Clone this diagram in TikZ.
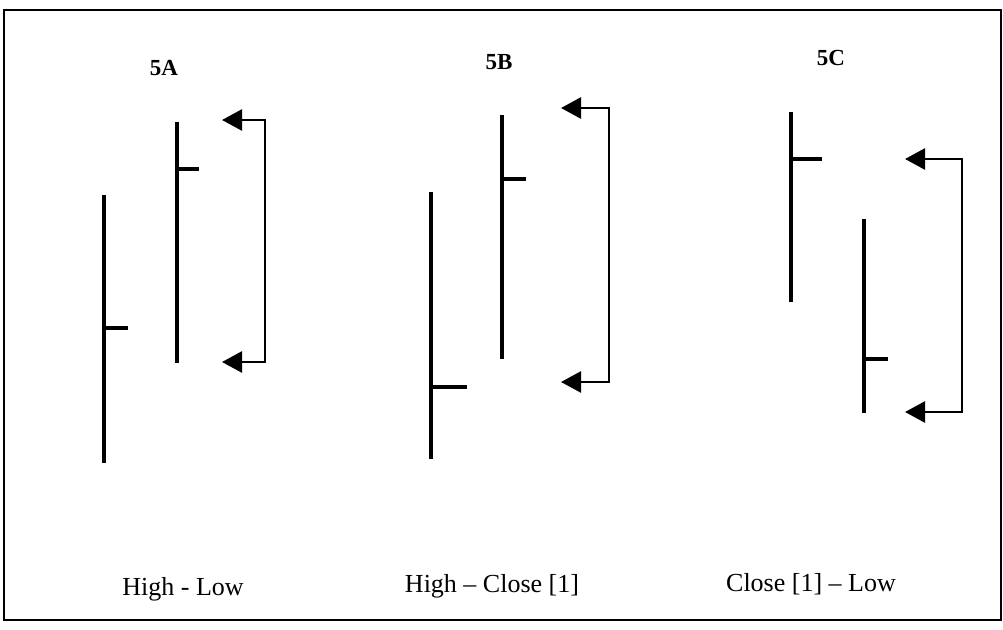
\documentclass[tikz,border=0pt]{standalone}
\usepackage{fontspec}
\setmainfont{Liberation Serif}
\usetikzlibrary{arrows.meta, positioning, calc}
\tikzset{
    barLine/.style={line width=4.2pt},
    tickLine/.style={line width=4.2pt},
    spanLine/.style={line width=2.6pt, -{Triangle[length=20pt, width=21pt]}},
    panelTitle/.style={font=\fontsize{23}{25}\selectfont\bfseries, inner sep=0pt},
    panelCaption/.style={font=\fontsize{26}{28}\selectfont, inner sep=0pt},
    frameLine/.style={line width=2.5pt}
}

\begin{document}
\begin{tikzpicture}[x=1pt, y=-1pt]

        % Page size
        \useasboundingbox (0,0) rectangle (1003,629);
        \draw[frameLine] (4,10) rectangle (1001,620);

        % --- Macro for one price bar ---
        % #1 = x, #2 = high, #3 = low, #4 = close y, #5 = tick end x
        \newcommand{\drawBar}[5]{
            \draw[barLine] (#1,#2) -- (#1,#3);
            \draw[tickLine] (#1,#4) -- (#5,#4);
        }

        % --- Macro for the range bracket ---
        % #1 = name, #2 = bracket x, #3 = top y, #4 = bottom y, #5 = tip x
        \newcommand{\drawSpan}[5]{
            \coordinate (#1top) at (#2,#3);
            \coordinate (#1bot) at (#2,#4);
            \coordinate (#1tipT) at (#5,#3);
            \coordinate (#1tipB) at (#5,#4);
            \draw[spanLine] (#1top) -- (#1tipT);
            \draw[spanLine] (#1bot) -- (#1tipB);
            \draw[line width=2.6pt, line cap=rect] (#1top) -- (#1bot);
        }

        % Titles
        \node[panelTitle] (tA) at (164,68) {5A};
        \node[panelTitle] (tB) at (499,62) {5B};
        \node[panelTitle] (tC) at (831,58) {5C};

        % 5A
        \drawBar{104}{195}{463}{328}{128}
        \drawBar{177}{122}{363}{169}{199}
        \drawSpan{A}{265}{120}{362}{222}

        % 5B
        \drawBar{431}{192}{459}{387}{467}
        \drawBar{502}{115}{359}{179}{526}
        \drawSpan{B}{609}{108}{382}{561}

        % 5C
        \drawBar{791}{112}{302}{159}{822}
        \drawBar{864}{219}{413}{359}{888}
        \drawSpan{C}{962}{159}{412}{905}

        % Captions
        \node[panelCaption] (cA) at (183,589) {High - Low};
        \node[panelCaption] (cB) at (492,586) {High -- Close [1]};
        \node[panelCaption] (cC) at (811,584) {Close [1] -- Low};

    \end{tikzpicture}
\end{document}
